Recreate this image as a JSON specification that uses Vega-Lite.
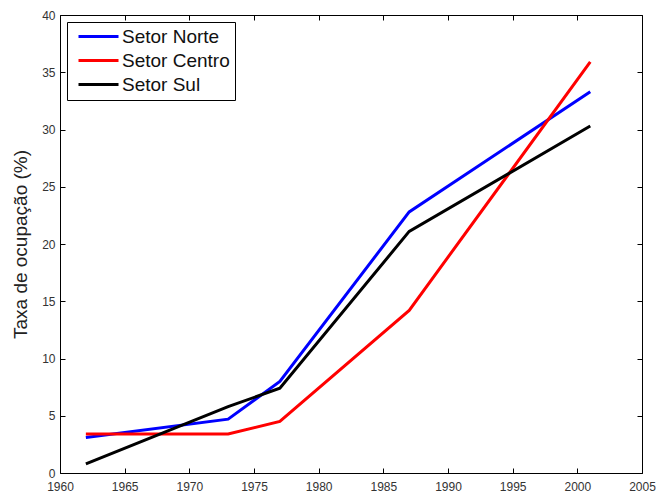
{
  "$schema": "https://vega.github.io/schema/vega-lite/v6.json",
  "width": 582,
  "height": 458,
  "autosize": "none",
  "padding": {"left": 60, "top": 15, "right": 25, "bottom": 19},
  "background": "white",
  "config": {
    "font": "Liberation Sans",
    "view": {"stroke": "black", "strokeWidth": 1},
    "axis": {
      "grid": false,
      "domain": false,
      "tickColor": "black",
      "tickSize": -5,
      "tickWidth": 1,
      "labelColor": "#333333",
      "labelFont": "Liberation Sans",
      "labelFontSize": 12,
      "titleFont": "Liberation Sans",
      "titleFontWeight": "normal",
      "titleColor": "#222222"
    }
  },
  "data": {
    "values": [
      {"ano": 1962, "taxa": 3.1, "setor": "Setor Norte"},
      {"ano": 1973, "taxa": 4.7, "setor": "Setor Norte"},
      {"ano": 1977, "taxa": 8.0, "setor": "Setor Norte"},
      {"ano": 1987, "taxa": 22.8, "setor": "Setor Norte"},
      {"ano": 2001, "taxa": 33.3, "setor": "Setor Norte"},
      {"ano": 1962, "taxa": 3.4, "setor": "Setor Centro"},
      {"ano": 1973, "taxa": 3.4, "setor": "Setor Centro"},
      {"ano": 1977, "taxa": 4.5, "setor": "Setor Centro"},
      {"ano": 1987, "taxa": 14.2, "setor": "Setor Centro"},
      {"ano": 2001, "taxa": 35.9, "setor": "Setor Centro"},
      {"ano": 1962, "taxa": 0.8, "setor": "Setor Sul"},
      {"ano": 1973, "taxa": 5.8, "setor": "Setor Sul"},
      {"ano": 1977, "taxa": 7.4, "setor": "Setor Sul"},
      {"ano": 1987, "taxa": 21.1, "setor": "Setor Sul"},
      {"ano": 2001, "taxa": 30.3, "setor": "Setor Sul"}
    ]
  },
  "layer": [
    {
      "mark": {"type": "line", "strokeWidth": 3, "opacity": 0},
      "encoding": {
        "x": {"field": "ano", "type": "quantitative", "scale": {"domain": [1960, 2005], "nice": false, "zero": false},
              "axis": {"orient": "top", "labels": false, "title": null, "values": [1960,1965,1970,1975,1980,1985,1990,1995,2000,2005]}},
        "y": {"field": "taxa", "type": "quantitative", "scale": {"domain": [0, 40], "nice": false},
              "axis": {"orient": "right", "labels": false, "title": null, "values": [0,5,10,15,20,25,30,35,40]}}
      }
    },
    {
      "mark": {"type": "line", "strokeWidth": 3},
      "encoding": {
        "x": {"field": "ano", "type": "quantitative",
              "axis": {"orient": "bottom", "title": null, "labelPadding": 13, "labelFlush": false, "values": [1960,1965,1970,1975,1980,1985,1990,1995,2000,2005], "format": "d"}},
        "y": {"field": "taxa", "type": "quantitative",
              "axis": {"orient": "left", "title": "Taxa de ocupação (%)", "titleFontSize": 19, "titleAngle": 270, "titleX": -40, "titleY": 229, "titleBaseline": "middle", "titleAlign": "center", "labelPadding": 10, "values": [0,5,10,15,20,25,30,35,40]}},
        "color": {
          "field": "setor", "type": "nominal",
          "scale": {"domain": ["Setor Norte", "Setor Centro", "Setor Sul"], "range": ["#0000ff", "#ff0000", "#000000"]},
          "legend": {
            "title": null,
            "orient": "none",
            "legendX": 7,
            "legendY": 7,
            "symbolType": "M-0.6,0H7.4",
            "symbolSize": 100,
            "symbolStrokeWidth": 3,
            "labelFont": "Liberation Sans",
            "labelFontSize": 19,
            "labelColor": "#111111",
            "labelOffset": 31,
            "rowPadding": 4,
            "padding": 5,
            "strokeColor": "black",
            "fillColor": "white",
            "cornerRadius": 0
          }
        }
      }
    }
  ],
  "resolve": {"axis": {"x": "independent", "y": "independent"}}
}
